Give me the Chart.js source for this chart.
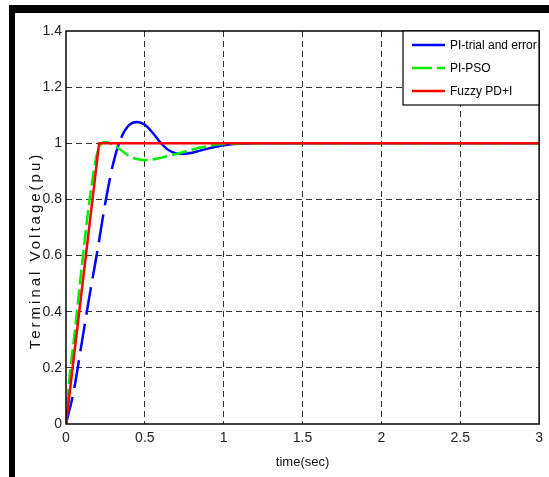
<!DOCTYPE html>
<html>
<head>
<meta charset="utf-8">
<script src="https://cdn.jsdelivr.net/npm/chart.js@4.4.0/dist/chart.umd.min.js"></script>
<style>
html,body{margin:0;padding:0;background:#fff;}
canvas{display:block;}
</style>
</head>
<body>
<canvas id="c" width="549" height="477"></canvas>
<script>
// ---- data ----
const xTicks = [0, 0.5, 1, 1.5, 2, 2.5, 3];
const yTicks = [0, 0.2, 0.4, 0.6, 0.8, 1, 1.2, 1.4];

const seriesNames = ["PI-trial and error", "PI-PSO", "Fuzzy PD+I"];

const trialT = [0, 0.05, 0.1, 0.15, 0.2, 0.25, 0.3, 0.35, 0.4, 0.45, 0.5, 0.55, 0.6, 0.65, 0.7, 0.75, 0.8, 0.85, 0.9, 1.0, 1.2, 3];
const trialV = [0, 0.12, 0.29, 0.46, 0.62, 0.79, 0.93, 1.02, 1.065, 1.076, 1.066, 1.037, 1.002, 0.976, 0.964, 0.962, 0.966, 0.974, 0.981, 0.993, 1.0, 1.0];

const psoT = [0, 0.02, 0.05, 0.1, 0.15, 0.2, 0.25, 0.3, 0.35, 0.4, 0.45, 0.5, 0.55, 0.6, 0.7, 0.8, 0.9, 1.0, 1.2, 3];
const psoV = [0, 0.15, 0.3, 0.56, 0.8, 0.97, 1.005, 0.995, 0.975, 0.955, 0.944, 0.94, 0.942, 0.948, 0.962, 0.978, 0.99, 0.997, 1.0, 1.0];

const fuzzyT = [0, 0.21, 3];
const fuzzyV = [0, 1.0, 1.0];

const toPts = (t, v) => t.map((x, i) => ({x: x, y: v[i]}));

const FONT = "'Liberation Sans', Arial, sans-serif";

const framePlugin = {
  id: 'frame',
  afterLayout(chart) {
    const s = chart.scales.y;
    if (!s._wrappedTitle) {
      const orig = s.drawTitle.bind(s);
      s.drawTitle = function () {
        const ctx = this.ctx;
        ctx.save();
        ctx.letterSpacing = '3px';
        ctx.translate(0, 23);
        orig();
        ctx.restore();
        ctx.letterSpacing = '0px';
      };
      s._wrappedTitle = true;
    }
  },
  beforeDraw(chart) {
    const ctx = chart.ctx;
    ctx.save();
    ctx.fillStyle = '#fff';
    ctx.fillRect(0, 0, chart.width, chart.height);
    ctx.fillStyle = '#000';
    ctx.fillRect(9, 5, 6, chart.height - 5);
    ctx.fillRect(9, 5, chart.width - 9, 8);
    ctx.restore();
  },
  afterDraw(chart) {
    const ctx = chart.ctx;
    const a = chart.chartArea;
    ctx.save();
    ctx.strokeStyle = '#000';
    ctx.lineWidth = 1.5;
    ctx.setLineDash([]);
    ctx.strokeRect(a.left, a.top, a.right - a.left, a.bottom - a.top);

    // legend box
    const lx = 403, ly = 31, lw = 136, lh = 74;
    ctx.fillStyle = '#fff';
    ctx.fillRect(lx, ly, lw, lh);
    ctx.lineWidth = 1.2;
    ctx.strokeStyle = '#000';
    ctx.strokeRect(lx, ly, lw, lh);
    const rows = [45, 68, 91];
    chart.data.datasets.forEach((ds, i) => {
      const y = rows[i];
      ctx.strokeStyle = ds.borderColor;
      ctx.lineWidth = 2.5;
      ctx.setLineDash(ds.legendDash || []);
      ctx.beginPath();
      ctx.moveTo(412, y);
      ctx.lineTo(445, y);
      ctx.stroke();
      ctx.setLineDash([]);
      ctx.fillStyle = '#000';
      ctx.font = '12px ' + FONT;
      ctx.textBaseline = 'middle';
      ctx.textAlign = 'left';
      ctx.fillText(ds.label, 450, y + 1);
    });
    ctx.restore();
  }
};

const gridColor = (ctx) => {
  const n = ctx.chart.scales[ctx.scale.id].ticks.length;
  return (ctx.index === 0 || ctx.index === n - 1) ? 'rgba(0,0,0,0)' : '#333';
};

new Chart(document.getElementById('c'), {
  type: 'scatter',
  data: {
    datasets: [
      {
        label: seriesNames[0],
        data: toPts(trialT, trialV),
        showLine: true,
        borderColor: '#0000ff',
        borderWidth: 2.5,
        pointRadius: 0,
        cubicInterpolationMode: 'monotone',
        order: 3,
        legendDash: [],
        segment: {
          borderDash: (c) => c.p0.parsed.x < 0.34 ? [28, 9] : undefined
        }
      },
      {
        label: seriesNames[1],
        data: toPts(psoT, psoV),
        showLine: true,
        borderColor: '#00ee00',
        borderWidth: 2.5,
        pointRadius: 0,
        cubicInterpolationMode: 'monotone',
        borderDash: [15, 5],
        legendDash: [20, 5],
        order: 2
      },
      {
        label: seriesNames[2],
        data: toPts(fuzzyT, fuzzyV),
        showLine: true,
        borderColor: '#ff0000',
        borderWidth: 2.5,
        pointRadius: 0,
        tension: 0,
        legendDash: [],
        order: 1
      }
    ]
  },
  options: {
    responsive: false,
    animation: false,
    events: [],
    layout: { padding: { left: 0, right: 8, top: 31, bottom: 0 } },
    plugins: { legend: { display: false }, tooltip: { enabled: false } },
    scales: {
      x: {
        type: 'linear',
        min: 0, max: 3,
        afterBuildTicks: (s) => { s.ticks = xTicks.map(v => ({value: v})); },
        afterFit: (s) => { s.height = 53; },
        ticks: {
          color: '#222',
          font: { family: FONT, size: 14 },
          padding: 6,
          maxRotation: 0,
          callback: (v) => String(v)
        },
        grid: { color: gridColor, lineWidth: 1, drawTicks: false },
        border: { display: false, dash: [6, 4] },
        title: {
          display: true, text: 'time(sec)', color: '#111',
          font: { family: FONT, size: 13 },
          padding: { top: 0, bottom: 7 }
        }
      },
      y: {
        type: 'linear',
        min: 0, max: 1.4,
        afterBuildTicks: (s) => { s.ticks = yTicks.map(v => ({value: v})); },
        afterFit: (s) => { s.width = 66; },
        ticks: {
          color: '#222',
          font: { family: FONT, size: 14 },
          padding: 4,
          callback: (v) => String(v)
        },
        grid: { color: gridColor, lineWidth: 1, drawTicks: false },
        border: { display: false, dash: [6, 4] },
        title: {
          display: true, text: 'Terminal Voltage(pu)', color: '#111',
          font: { family: FONT, size: 15 },
          padding: { top: 27, bottom: 0 }
        }
      }
    }
  },
  plugins: [framePlugin]
});
</script>
</body>
</html>
